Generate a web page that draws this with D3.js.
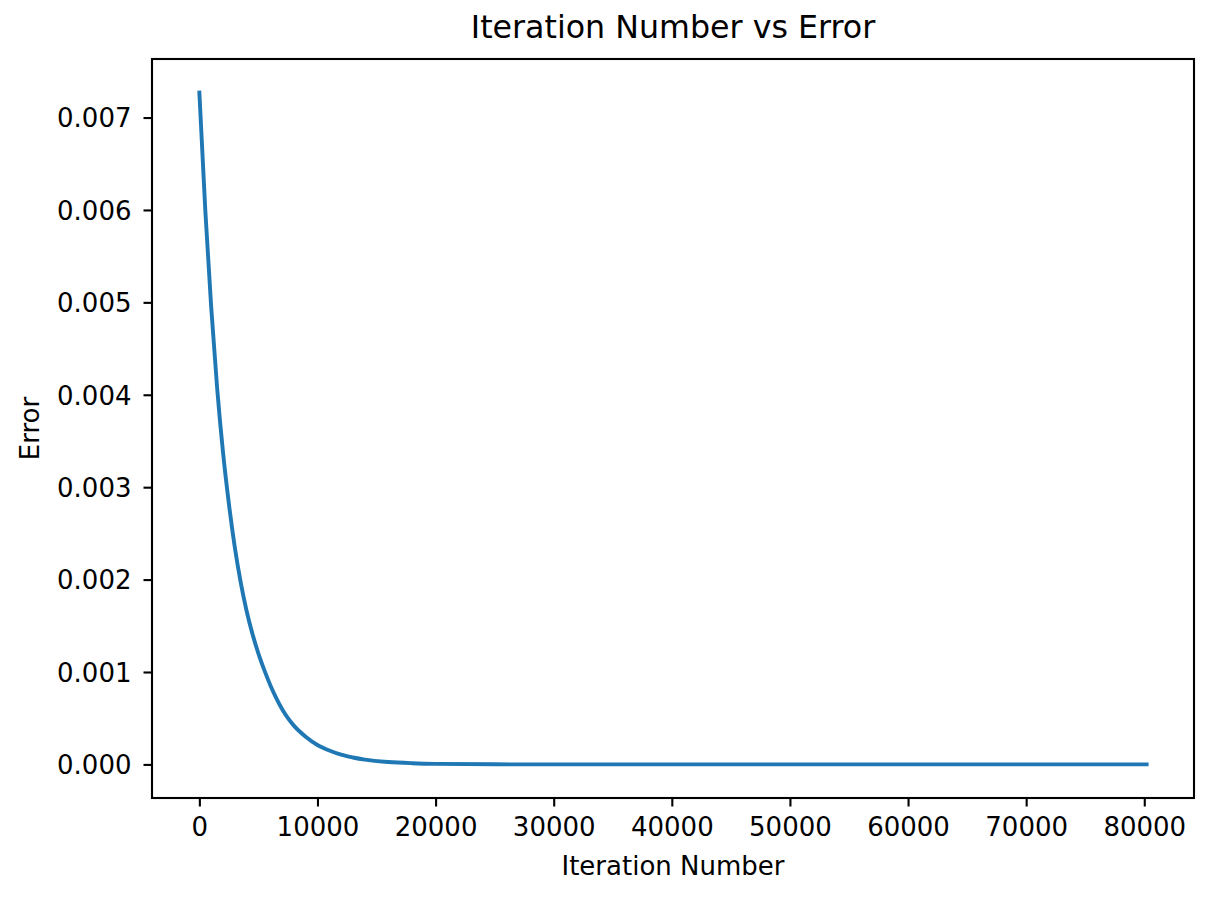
<!DOCTYPE html>
<html>
<head>
<meta charset="utf-8">
<script src="https://cdn.jsdelivr.net/npm/d3@7"></script>
<style>
  body { margin: 0; background: #fff; }
  svg { display: block; font-family: "DejaVu Sans", sans-serif; }
  .axis text { font-size: 26px; fill: #000; }
  .axis line { stroke: #000; stroke-width: 2.1px; }
</style>
</head>
<body>
<div id="chart"></div>
<script>
// iteration numbers and error values
const iterations = [0, 500, 1000, 1500, 2000, 2500, 3000, 3500, 4000, 4500, 5000, 5500, 6000,
  6500, 7000, 7500, 8000, 9000, 10000, 11000, 12000, 13000, 14000, 16000, 18000, 20000,
  25000, 30000, 40000, 50000, 60000, 70000, 80200];
const errors = [0.00727, 0.00600, 0.00495, 0.00408, 0.00338, 0.00282, 0.00235, 0.00197,
  0.00166, 0.00141, 0.00120, 0.00102, 0.00086, 0.00072, 0.00060, 0.00050, 0.00042, 0.00030,
  0.00021, 0.00015, 0.000105, 0.000075, 0.000052, 0.000026, 0.000013, 0.000006,
  0.000001, 0, 0, 0, 0, 0, 0];

const xTicks = [0, 10000, 20000, 30000, 40000, 50000, 60000, 70000, 80000];
const yTicks = [0, 0.001, 0.002, 0.003, 0.004, 0.005, 0.006, 0.007];

const titleText = "Iteration Number vs Error";
const xLabel = "Iteration Number";
const yLabel = "Error";

let margin = {top: 59, right: 19, bottom: 103, left: 152};
let width = 1213 - margin.left - margin.right;
let height = 901 - margin.top - margin.bottom;

const data = iterations.map((x, i) => ({x: x, y: errors[i]}));

// matplotlib style 5% padding on both axes
const pad = ([a, b]) => [a - (b - a) * 0.05, b + (b - a) * 0.05];

let xScale = d3.scaleLinear()
    .domain(pad(d3.extent(iterations)))
    .range([0, width]);

let yScale = d3.scaleLinear()
    .domain(pad(d3.extent(errors)))
    .range([height, 0]);

let svg = d3.select("#chart").append("svg")
    .attr("width", 1213)
    .attr("height", 901)
    .append("g")
    .attr("transform", "translate(" + margin.left + "," + margin.top + ")");

// x axis
let xAxis = svg.append("g")
    .attr("class", "axis")
    .attr("transform", "translate(0," + height + ")")
    .call(d3.axisBottom(xScale).tickValues(xTicks).tickFormat(d3.format("d"))
      .tickSize(8.5).tickPadding(11));
xAxis.attr("font-family", null).attr("font-size", null);
xAxis.select(".domain").remove();

// y axis
let yAxis = svg.append("g")
    .attr("class", "axis")
    .call(d3.axisLeft(yScale).tickValues(yTicks).tickFormat(d3.format(".3f"))
      .tickSize(8.5).tickPadding(12));
yAxis.attr("font-family", null).attr("font-size", null);
yAxis.select(".domain").remove();
yAxis.selectAll("text").attr("dy", "0.36em");

// the error curve
let line = d3.line()
    .x(d => xScale(d.x))
    .y(d => yScale(d.y))
    .curve(d3.curveMonotoneX);

svg.append("path")
    .datum(data)
    .attr("fill", "none")
    .attr("stroke", "#1f77b4")
    .attr("stroke-width", 3.9)
    .attr("stroke-linecap", "square")
    .attr("stroke-linejoin", "round")
    .attr("d", line);

// frame
svg.append("rect")
    .attr("width", width)
    .attr("height", height)
    .attr("fill", "none")
    .attr("stroke", "#000")
    .attr("stroke-width", 2.1);

svg.append("text")
    .attr("x", width / 2)
    .attr("y", -21)
    .attr("text-anchor", "middle")
    .attr("font-size", "31.7px")
    .text(titleText);

svg.append("text")
    .attr("x", width / 2)
    .attr("y", height + 77)
    .attr("text-anchor", "middle")
    .attr("font-size", "26px")
    .text(xLabel);

svg.append("text")
    .attr("transform", "translate(" + (-113) + "," + (height / 2) + ")rotate(-90)")
    .attr("text-anchor", "middle")
    .attr("font-size", "26px")
    .text(yLabel);
</script>
</body>
</html>
